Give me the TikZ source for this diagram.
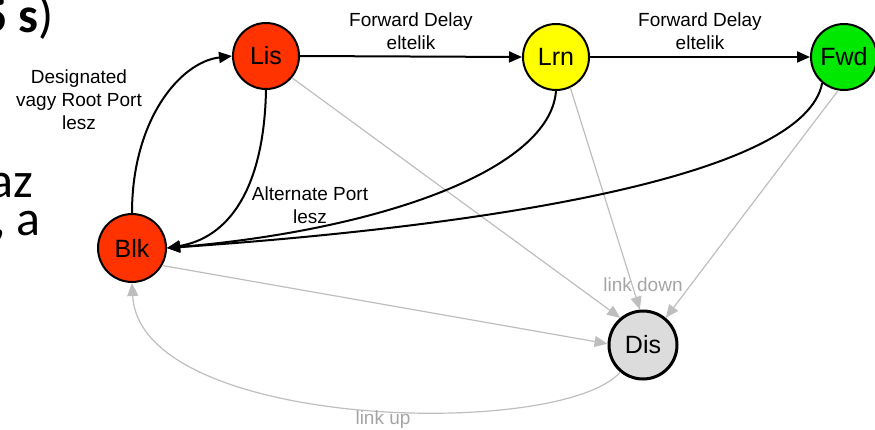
\documentclass[tikz,border=0pt]{standalone}
\usepackage{fontspec}
\setmainfont{Liberation Sans}
\newfontfamily\slidefont{Carlito}
\usetikzlibrary{arrows.meta}
\definecolor{redst}{RGB}{255,51,0}
\definecolor{yelst}{RGB}{255,255,0}
\definecolor{grnst}{RGB}{0,232,0}
\definecolor{disst}{RGB}{220,220,220}
\definecolor{gline}{RGB}{190,190,190}
\definecolor{glabel}{RGB}{165,165,165}
\tikzset{
  state/.style={circle,draw=black,line width=2pt,minimum size=66pt,inner sep=0pt,font=\fontsize{25}{30}\selectfont},
  blk/.style={draw=black,line width=2pt,-{Triangle[length=13pt,width=11pt]}},
  gry/.style={draw=gline,line width=1.2pt,-{Triangle[length=13pt,width=11pt]}},
  lbl/.style={align=center,font=\fontsize{19}{23}\selectfont,inner sep=0pt},
  glbl/.style={lbl,text=glabel},
  slide/.style={inner sep=0pt,font=\slidefont\fontsize{50}{54}\selectfont}
}
\begin{document}
\begin{tikzpicture}[x=1pt,y=-1pt]
\useasboundingbox (0,0) rectangle (875,429);
% cropped slide text
\node[slide,anchor=base east] (s1) at (54,32) {\textbf{5 s})};
\node[slide,anchor=base east] (s2) at (33,197) {az};
\node[slide,anchor=base east] (s3) at (41,235) {, a};
% states
\node[state,fill=redst] (Lis) at (266,56) {Lis};
\node[state,fill=yelst] (Lrn) at (556,57) {Lrn};
\node[state,fill=grnst] (Fwd) at (844,57) {Fwd};
\node[state,fill=redst,minimum size=68pt] (Blk) at (132,248) {Blk};
\node[state,fill=disst,line width=3pt,minimum size=68pt] (Dis) at (643,345) {Dis};
% gray edges
\draw[gry] (Lis.-40) -- (Dis.130);
\draw[gry] (Lrn.-65) -- (Dis.95);
\draw[gry] (Fwd.-100) -- (Dis.50);
\draw[gry] (Blk.-30) -- (Dis.178);
\draw[gry] (Dis.230) .. controls (560,440) and (140,430) .. (Blk.south);
% black edges
\draw[blk] (Lis.east) -- (Lrn.west);
\draw[blk] (Lrn.east) -- (Fwd.west);
\draw[blk] (Blk.north) .. controls (132,120) and (180,62) .. (Lis.west);
\draw[blk] (Lis.south) .. controls (264,190) and (228,238) .. (Blk.east);
\draw[blk] (Lrn.south) .. controls (550,170) and (380,230) .. (Blk.east);
\draw[blk] (Fwd.230) .. controls (805,175) and (500,225) .. (Blk.east);
% labels
\node[lbl] (l1) at (411,31) {Forward Delay\\eltelik};
\node[lbl] (l2) at (700,31) {Forward Delay\\eltelik};
\node[lbl] (l3) at (79,100) {Designated\\vagy Root Port\\lesz};
\node[lbl] (l4) at (310,205) {Alternate Port\\lesz};
\node[glbl] (l5) at (643,285) {link down};
\node[glbl] (l6) at (383,420) {link up};
\end{tikzpicture}
\end{document}
